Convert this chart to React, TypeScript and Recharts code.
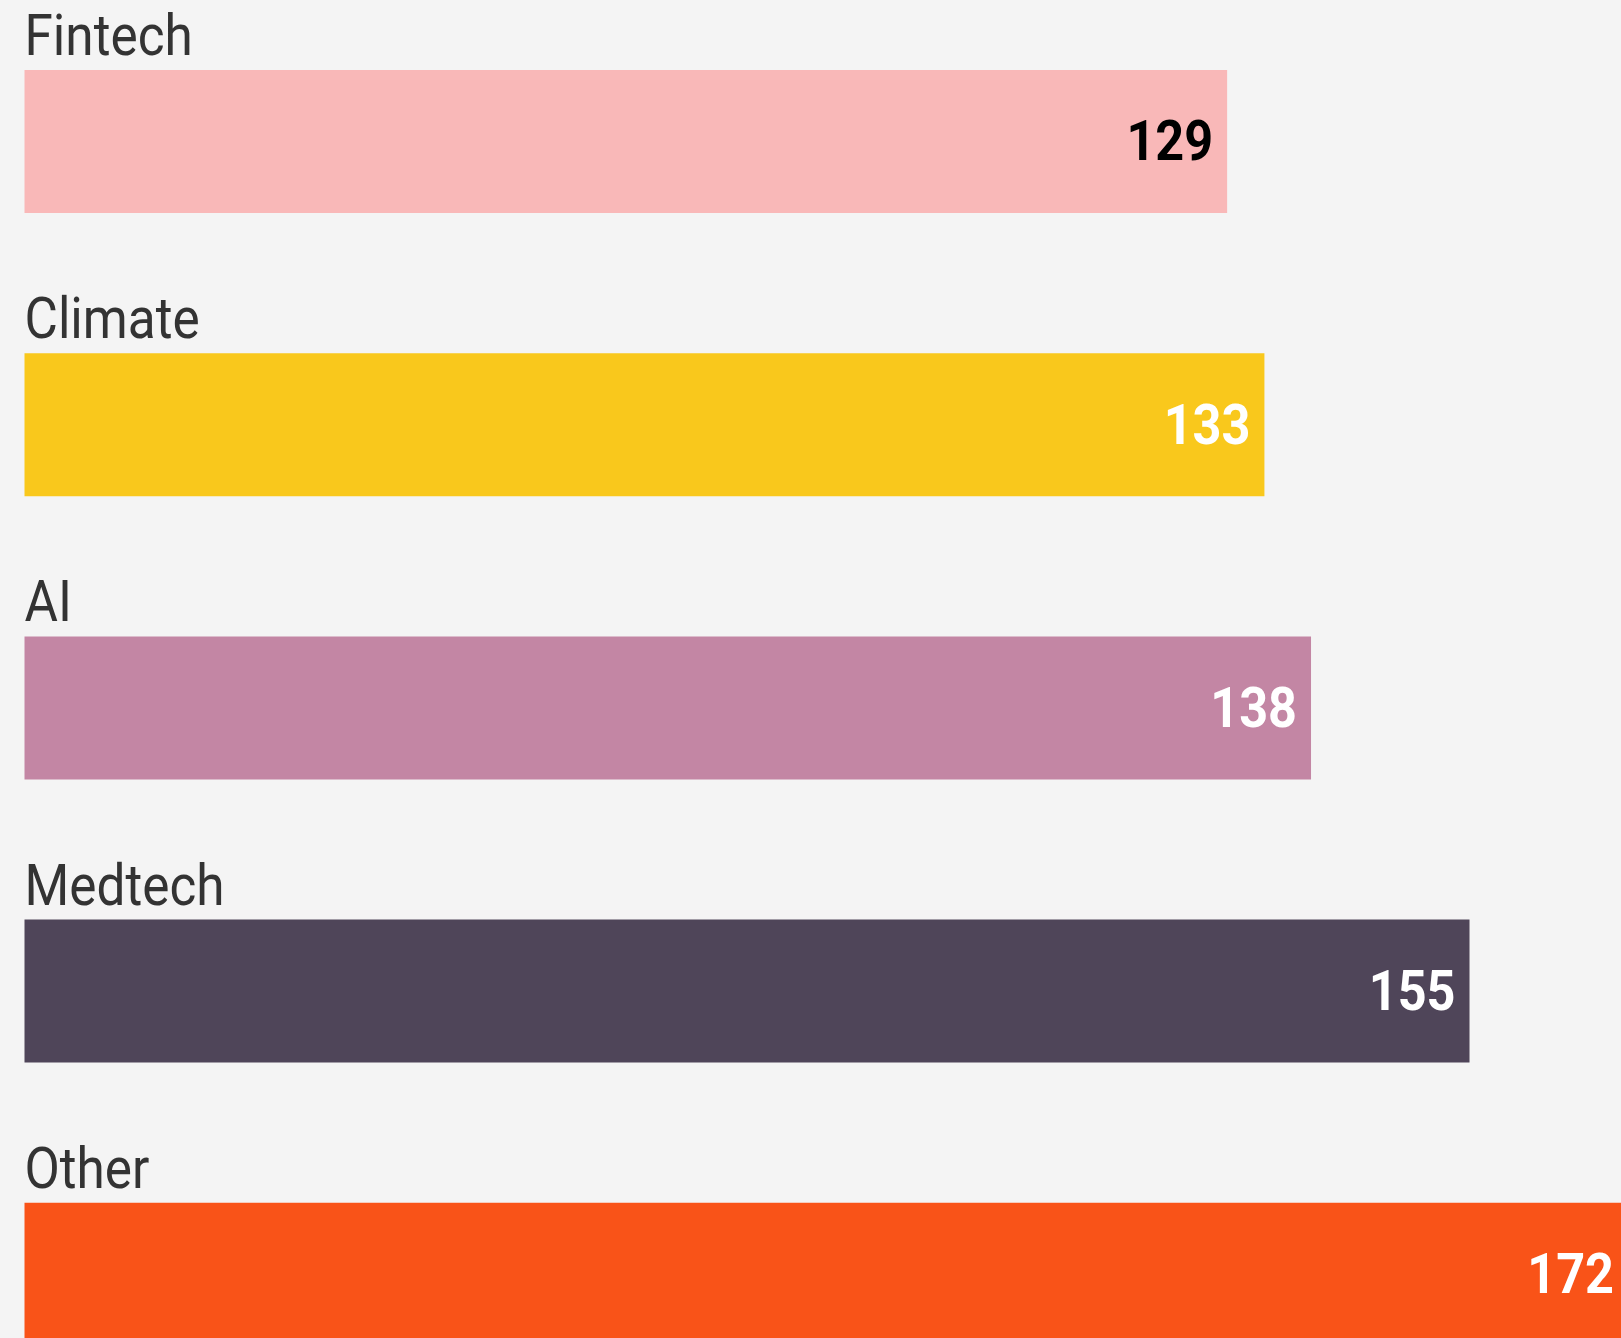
import { BarChart, Bar, XAxis, YAxis, Cell, LabelList } from 'recharts';

const sectors = ['Fintech', 'Climate', 'AI', 'Medtech', 'Other'];
const counts = [129, 133, 138, 155, 172];
const colors = ['#f9b8b8', '#f9c81c', '#c386a4', '#4f4559', '#f95318'];
const valueColors = ['#000000', '#ffffff', '#ffffff', '#ffffff', '#ffffff'];

const data = sectors.map((name, i) => ({ name, count: counts[i] }));

const FONT = 'Roboto, "Noto Sans", sans-serif';

const SectorLabel = (props: any) => {
  const { x, y, value } = props;
  return (
    <text
      transform={`translate(${x},${y - 15}) scale(0.9,1)`}
      fill="#333333"
      fontFamily={FONT}
      fontSize={57}
    >
      {value}
    </text>
  );
};

const ValueLabel = (props: any) => {
  const { x, y, width, height, value, index } = props;
  return (
    <text
      transform={`translate(${x + width - 14},${y + height / 2}) scale(0.9,1)`}
      fill={valueColors[index]}
      fontFamily={FONT}
      fontWeight={700}
      fontSize={56}
      textAnchor="end"
      dominantBaseline="central"
    >
      {value}
    </text>
  );
};

export default function App() {
  return (
    <div
      style={{
        position: 'fixed',
        left: 0,
        top: 0,
        width: 1621,
        height: 1338,
        overflow: 'hidden',
        background: '#f4f4f4',
      }}
    >
      <BarChart
        width={1640}
        height={1416}
        data={data}
        layout="vertical"
        margin={{ top: 0, right: 12, bottom: 0, left: 24.5 }}
        barCategoryGap={70}
      >
        <XAxis type="number" hide domain={[0, Math.max(...counts)]} />
        <YAxis type="category" dataKey="name" hide />
        <Bar dataKey="count" barSize={143} isAnimationActive={false}>
          {data.map((d, i) => (
            <Cell key={d.name} fill={colors[i]} />
          ))}
          <LabelList dataKey="name" content={SectorLabel} />
          <LabelList dataKey="count" content={ValueLabel} />
        </Bar>
      </BarChart>
    </div>
  );
}
